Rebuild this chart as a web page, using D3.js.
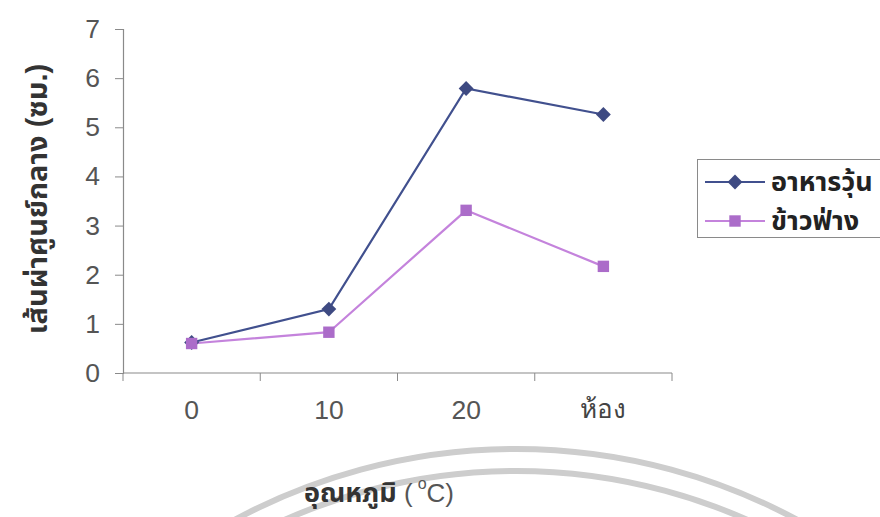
<!DOCTYPE html>
<html>
<head>
<meta charset="utf-8">
<script src="https://cdn.jsdelivr.net/npm/d3@7"></script>
<style>
  html, body { margin: 0; padding: 0; background: #fff; }
  svg { display: block; font-family: "Liberation Sans", Arial, "Noto Sans Thai", "DejaVu Sans", sans-serif; }
</style>
</head>
<body>
<svg id="chart" width="880" height="517"></svg>
<script>
const categories = ["0", "10", "20", "ห้อง"];
const seriesNames = ["อาหารวุ้น", "ข้าวฟ่าง"];
const agarValues = [0.62, 1.30, 5.79, 5.26];
const sorghumValues = [0.60, 0.83, 3.31, 2.17];
const yTicks = [0, 1, 2, 3, 4, 5, 6, 7];
const yTitle = "เส้นผ่าศูนย์กลาง (ซม.)";
const xTitle = "อุณหภูมิ";

const svg = d3.select("#chart");
const m = { left: 123, right: 672, top: 29, bottom: 373 };

// faint watermark arcs
const wm = svg.append("g").attr("fill", "none").attr("stroke", "#cdcdcd").attr("stroke-width", 6);
[594, 572].forEach(r => {
  wm.append("path")
    .attr("transform", `translate(516,${449 + 594})`)
    .attr("d", d3.arc()({ innerRadius: r, outerRadius: r, startAngle: -0.52, endAngle: 0.52 }));
});

const x = d3.scaleBand().domain(categories).range([m.left, m.right]).padding(0);
const y = d3.scaleLinear().domain([0, 7]).range([m.bottom, m.top]);

const yAxis = svg.append("g").attr("transform", `translate(${m.left},0)`)
  .call(d3.axisLeft(y).tickValues(yTicks).tickSize(8).tickPadding(15).tickFormat(d3.format("d")));
const xAxis = svg.append("g").attr("transform", `translate(0,${m.bottom})`)
  .call(d3.axisBottom(x).tickSize(0).tickPadding(27));
const xb = categories.map(c => x(c)).concat([x(categories[categories.length - 1]) + x.bandwidth()]);
svg.append("g").selectAll("line").data(xb).join("line")
  .attr("x1", d => d).attr("x2", d => d)
  .attr("y1", m.bottom).attr("y2", m.bottom + 8)
  .attr("stroke", "#8a8a8a").attr("stroke-width", 1);

[yAxis, xAxis].forEach(g => {
  g.select(".domain").attr("stroke", "#8a8a8a").attr("stroke-width", 1.2);
  g.selectAll(".tick line").attr("stroke", "#8a8a8a");
  g.selectAll(".tick text").attr("fill", "#555").attr("font-size", 26.5);
});
xAxis.select(".domain").attr("d", `M${m.left},0H${m.right}`);
xAxis.selectAll(".tick text").filter(d => d === "ห้อง").attr("font-size", 26).attr("fill", "#444");

const cx = c => x(c) + x.bandwidth() / 2;

const series = [
  { name: seriesNames[0], values: agarValues, line: "#41508e", fill: "#3e4a82", diamond: true },
  { name: seriesNames[1], values: sorghumValues, line: "#c483dc", fill: "#ab6cc9", diamond: false }
];
const marker = (s) => d3.symbol(d3.symbolSquare, s.diamond ? 110 : 130)();
const rot = (s) => s.diamond ? " rotate(45)" : "";

const line = d3.line().x((d, i) => cx(categories[i])).y(d => y(d));

series.forEach(s => {
  svg.append("path").datum(s.values).attr("d", line)
    .attr("fill", "none").attr("stroke", s.line).attr("stroke-width", 2.2);
});
series.forEach(s => {
  svg.append("g").selectAll("path").data(s.values).join("path")
    .attr("transform", (d, i) => `translate(${cx(categories[i])},${y(d)})` + rot(s))
    .attr("d", marker(s))
    .attr("fill", s.fill);
});

// legend
const lg = svg.append("g");
lg.append("rect").attr("x", 697.5).attr("y", 159.5).attr("width", 200).attr("height", 78)
  .attr("fill", "#fff").attr("stroke", "#8a8a8a").attr("stroke-width", 1);
series.forEach((s, i) => {
  const ly = 182 + i * 39;
  lg.append("line").attr("x1", 705).attr("x2", 765).attr("y1", ly).attr("y2", ly)
    .attr("stroke", s.line).attr("stroke-width", 2.2);
  lg.append("path").attr("transform", `translate(735,${ly})` + rot(s))
    .attr("d", marker(s)).attr("fill", s.fill);
  lg.append("text").attr("x", 771).attr("y", ly + 9).text(s.name)
    .attr("font-size", 27).attr("font-weight", "bold").attr("fill", "#222");
});

// y title
svg.append("text")
  .attr("transform", `translate(47,199) rotate(-90)`)
  .attr("text-anchor", "middle")
  .attr("font-size", 29).attr("font-weight", "bold").attr("fill", "#333")
  .text(yTitle);

// x title
const xt = svg.append("text").attr("x", 304).attr("y", 502)
  .attr("font-size", 27).attr("fill", "#333");
xt.append("tspan").attr("font-weight", "bold").text(xTitle);
xt.append("tspan").attr("fill", "#555").attr("font-size", 26).text(" (");
xt.append("tspan").attr("fill", "#555").attr("font-size", 16).attr("dx", 5).attr("dy", -13).text("o");
xt.append("tspan").attr("fill", "#555").attr("font-size", 26).attr("dy", 13).text("C)");
</script>
</body>
</html>
